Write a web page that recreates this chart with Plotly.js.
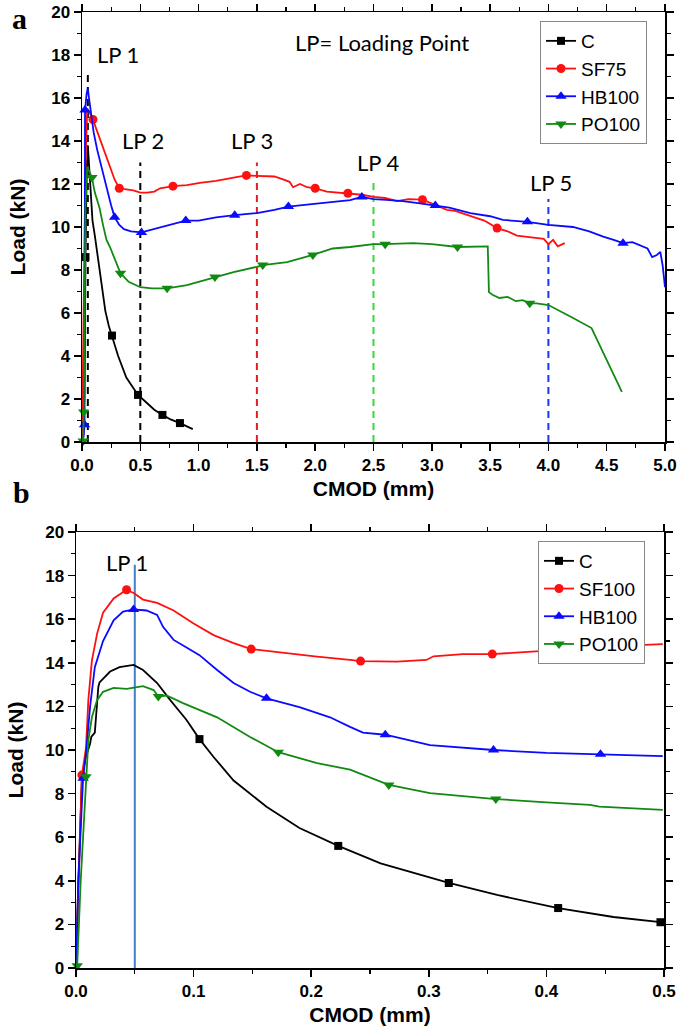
<!DOCTYPE html>
<html>
<head>
<meta charset="utf-8">
<script src="https://cdn.plot.ly/plotly-3.0.1.min.js"></script>
<style>html,body{margin:0;padding:0;background:#fff;}#chart{width:685px;height:1033px;}</style>
</head>
<body>
<div id="chart"></div>
<script>
// ---------- Panel a data ----------
var aC_x = [0, 0.02, 0.03, 0.04, 0.05, 0.06, 0.07, 0.08, 0.09, 0.11, 0.13, 0.155, 0.18, 0.2, 0.23, 0.257, 0.31, 0.38, 0.48, 0.55, 0.62, 0.69, 0.76, 0.84, 0.9, 0.95];
var aC_y = [0, 2, 8.6, 12.5, 13.8, 13.0, 12.0, 11.0, 10.3, 9.6, 8.8, 7.9, 6.9, 6.1, 5.4, 4.95, 4.0, 3.0, 2.19, 1.85, 1.5, 1.26, 1.05, 0.88, 0.72, 0.6];
var aC_mx = [0.03, 0.257, 0.48, 0.69, 0.84];
var aC_my = [8.6, 4.95, 2.19, 1.26, 0.88];

var aSF_x = [0, 0.01, 0.02, 0.03, 0.045, 0.06, 0.075, 0.094, 0.12, 0.155, 0.2, 0.24, 0.28, 0.32, 0.38, 0.44, 0.5, 0.56, 0.62, 0.67, 0.78, 0.9, 1.01, 1.15, 1.3, 1.41, 1.5, 1.58, 1.65, 1.73, 1.78, 1.81, 1.87, 1.93, 2.0, 2.1, 2.2, 2.28, 2.4, 2.5, 2.6, 2.7, 2.8, 2.92, 3.0, 3.13, 3.2, 3.33, 3.45, 3.56, 3.65, 3.73, 3.82, 3.9, 3.96, 4.0, 4.04, 4.08, 4.14];
var aSF_y = [0, 4, 9, 13, 15.5, 15.4, 15.2, 15.0, 14.6, 14.05, 13.4, 12.8, 12.2, 11.8, 11.75, 11.7, 11.6, 11.6, 11.65, 11.8, 11.9, 11.95, 12.05, 12.15, 12.3, 12.4, 12.38, 12.37, 12.35, 12.2, 12.1, 11.85, 12.0, 11.85, 11.8, 11.65, 11.6, 11.57, 11.5, 11.4, 11.35, 11.2, 11.3, 11.27, 11.1, 10.8, 10.75, 10.5, 10.3, 9.95, 9.8, 9.6, 9.55, 9.5, 9.45, 9.2, 9.4, 9.1, 9.25];
var aSF_mx = [0.094, 0.32, 0.78, 1.41, 2.0, 2.28, 2.92, 3.56];
var aSF_my = [15.0, 11.8, 11.9, 12.4, 11.8, 11.57, 11.27, 9.95];

var aHB_x = [0, 0.015, 0.022, 0.024, 0.026, 0.04, 0.05, 0.06, 0.08, 0.1, 0.13, 0.17, 0.21, 0.25, 0.28, 0.32, 0.36, 0.42, 0.51, 0.58, 0.67, 0.78, 0.89, 1.0, 1.15, 1.31, 1.5, 1.65, 1.77, 1.95, 2.15, 2.3, 2.4, 2.5, 2.61, 2.75, 2.9, 3.03, 3.15, 3.33, 3.5, 3.61, 3.72, 3.82, 4.0, 4.1, 4.21, 4.35, 4.47, 4.56, 4.64, 4.72, 4.79, 4.85, 4.89, 4.93, 4.96, 4.98, 5.0];
var aHB_y = [0, 0.3, 0.8, 8, 15.44, 16.2, 16.45, 16.0, 15.2, 14.4, 13.6, 12.7, 11.9, 11.0, 10.45, 10.1, 9.9, 9.8, 9.75, 9.85, 10.0, 10.15, 10.3, 10.3, 10.45, 10.55, 10.65, 10.8, 10.95, 11.05, 11.17, 11.25, 11.4, 11.3, 11.26, 11.2, 11.1, 11.0, 10.9, 10.65, 10.5, 10.33, 10.3, 10.24, 10.1, 10.05, 10.0, 9.8, 9.55, 9.4, 9.25, 9.3, 9.15, 9.0, 8.6, 8.7, 8.84, 8.2, 7.2];
var aHB_mx = [0.022, 0.026, 0.28, 0.51, 0.89, 1.31, 1.77, 2.4, 3.03, 3.82, 4.64];
var aHB_my = [0.8, 15.44, 10.45, 9.75, 10.3, 10.55, 10.95, 11.4, 11.0, 10.24, 9.25];

var aPO_x = [0, 0.01, 0.015, 0.02, 0.03, 0.045, 0.06, 0.085, 0.11, 0.15, 0.18, 0.21, 0.24, 0.28, 0.33, 0.4, 0.5, 0.6, 0.73, 0.9, 1.0, 1.14, 1.3, 1.5, 1.55, 1.76, 1.98, 2.15, 2.3, 2.5, 2.6, 2.84, 3.0, 3.22, 3.35, 3.48, 3.49, 3.52, 3.58, 3.65, 3.72, 3.78, 3.84, 3.9, 4.0, 4.1, 4.2, 4.37, 4.63];
var aPO_y = [0, 0.05, 1.4, 6, 11, 12.8, 12.6, 12.3, 11.6, 10.9, 10.1, 9.4, 9.07, 8.5, 7.85, 7.45, 7.2, 7.15, 7.15, 7.3, 7.45, 7.67, 7.9, 8.15, 8.23, 8.37, 8.7, 9.0, 9.07, 9.2, 9.2, 9.25, 9.2, 9.07, 9.1, 9.1, 6.97, 6.85, 6.7, 6.75, 6.55, 6.6, 6.45, 6.45, 6.37, 6.1, 5.8, 5.3, 2.33];
var aPO_mx = [0.01, 0.015, 0.085, 0.33, 0.73, 1.14, 1.55, 1.98, 2.6, 3.22, 3.84];
var aPO_my = [0.05, 1.4, 12.3, 7.85, 7.15, 7.67, 8.23, 8.7, 9.2, 9.07, 6.45];

// Loading point markers (panel a)
var aLP_x = [0.05, 0.5, 1.5, 2.5, 4.0];
var aLP_top = [17.2, 13.0, 13.0, 12.2, 11.3];
var aLP_colors = ['#000000', '#000000', '#e02020', '#33dd33', '#1a33ff'];
var aLP_labels = ['LP 1', 'LP 2', 'LP 3', 'LP 4', 'LP 5'];
var aLP_labelX = [0.31, 0.52, 1.46, 2.54, 4.02];
var aLP_labelY = [18.0, 14.0, 14.0, 13.0, 12.05];

// ---------- Panel b data ----------
var bC_x = [0, 0.002, 0.005, 0.008, 0.012, 0.013, 0.016, 0.019, 0.02, 0.025, 0.029, 0.037, 0.049, 0.057, 0.069, 0.08, 0.094, 0.105, 0.117, 0.134, 0.162, 0.19, 0.223, 0.259, 0.317, 0.358, 0.41, 0.457, 0.497];
var bC_y = [0, 4, 8.7, 9.6, 10.3, 10.6, 10.8, 12.9, 13.1, 13.4, 13.6, 13.8, 13.9, 13.67, 13.07, 12.3, 11.38, 10.5, 9.68, 8.6, 7.4, 6.42, 5.6, 4.8, 3.9, 3.35, 2.75, 2.34, 2.1];
var bC_mx = [0.105, 0.223, 0.317, 0.41, 0.497];
var bC_my = [10.5, 5.6, 3.9, 2.75, 2.1];

var bSF_x = [0, 0.002, 0.005, 0.0085, 0.0105, 0.0135, 0.018, 0.023, 0.032, 0.043, 0.049, 0.057, 0.069, 0.083, 0.1, 0.117, 0.134, 0.149, 0.176, 0.205, 0.233, 0.242, 0.273, 0.298, 0.304, 0.329, 0.354, 0.386, 0.415, 0.443, 0.47, 0.499];
var bSF_y = [0, 4, 8.85, 10.1, 12.3, 14.1, 15.35, 16.3, 16.95, 17.35, 17.2, 16.9, 16.75, 16.4, 15.8, 15.27, 14.9, 14.63, 14.45, 14.28, 14.13, 14.08, 14.05, 14.13, 14.3, 14.4, 14.4, 14.5, 14.6, 14.73, 14.8, 14.86];
var bSF_mx = [0.005, 0.043, 0.149, 0.242, 0.354];
var bSF_my = [8.85, 17.35, 14.63, 14.08, 14.4];

var bHB_x = [0, 0.002, 0.006, 0.0085, 0.012, 0.016, 0.023, 0.032, 0.04, 0.049, 0.06, 0.069, 0.074, 0.083, 0.094, 0.105, 0.12, 0.134, 0.148, 0.162, 0.19, 0.216, 0.233, 0.244, 0.263, 0.301, 0.355, 0.4, 0.446, 0.499];
var bHB_y = [0, 4, 8.7, 9.85, 12.0, 13.8, 15.0, 15.95, 16.35, 16.45, 16.4, 16.2, 15.65, 15.05, 14.7, 14.35, 13.67, 13.07, 12.67, 12.37, 11.97, 11.5, 11.06, 10.8, 10.7, 10.22, 10.0, 9.87, 9.8, 9.72];
var bHB_mx = [0.006, 0.049, 0.162, 0.263, 0.355, 0.446];
var bHB_my = [8.7, 16.45, 12.37, 10.7, 10.0, 9.8];

var bPO_x = [0, 0.001, 0.004, 0.0085, 0.0105, 0.0135, 0.018, 0.023, 0.032, 0.043, 0.057, 0.066, 0.07, 0.077, 0.091, 0.12, 0.148, 0.172, 0.205, 0.233, 0.266, 0.301, 0.357, 0.4, 0.437, 0.445, 0.499];
var bPO_y = [0, 0.1, 4, 8.77, 10.45, 11.5, 12.3, 12.67, 12.85, 12.8, 12.93, 12.75, 12.45, 12.5, 12.15, 11.5, 10.6, 9.9, 9.4, 9.1, 8.4, 8.02, 7.75, 7.6, 7.48, 7.4, 7.25];
var bPO_mx = [0.001, 0.0085, 0.07, 0.172, 0.266, 0.357];
var bPO_my = [0.1, 8.77, 12.45, 9.9, 8.4, 7.75];

var bLP_x = [0.05];
var bLP_top = [18.5];
var bLP_label = 'LP 1';
var bLP_labelX = 0.0434;
var bLP_labelY = 18.58;

var namesA = ['C', 'SF75', 'HB100', 'PO100'];
var namesB = ['C', 'SF100', 'HB100', 'PO100'];

// ---------- styles ----------
var colors = ['#000000', '#ff1010', '#0a0aff', '#128a12'];
var symbols = ['square', 'circle', 'triangle-up', 'triangle-down'];
var msizes = [8, 9, 10, 10];
var LW = 1.8;

var traces = [];

function addLP(xs, tops, cols, xa, ya, dash) {
  for (var i = 0; i < xs.length; i++) {
    traces.push({x: [xs[i], xs[i]], y: [0, tops[i]], mode: 'lines', xaxis: xa, yaxis: ya,
      line: {color: cols[i], width: 2, dash: dash}, showlegend: false, hoverinfo: 'skip', cliponaxis: false});
  }
}
function addSeries(lx, ly, mx, my, k, xa, ya) {
  traces.push({x: lx, y: ly, mode: 'lines', xaxis: xa, yaxis: ya,
    line: {color: colors[k], width: LW}, showlegend: false, cliponaxis: false});
  traces.push({x: mx, y: my, mode: 'markers', xaxis: xa, yaxis: ya,
    marker: {color: colors[k], symbol: symbols[k], size: msizes[k]}, showlegend: false, cliponaxis: false});
}
function addLegend(k, name, legend, xa, ya) {
  traces.push({x: [null], y: [null], mode: 'lines+markers', xaxis: xa, yaxis: ya, name: name, legend: legend,
    line: {color: colors[k], width: LW}, marker: {color: colors[k], symbol: symbols[k], size: msizes[k]}});
}

addLP(aLP_x, aLP_top, aLP_colors, 'x', 'y', '7px,5px');
addSeries(aC_x, aC_y, aC_mx, aC_my, 0, 'x', 'y');
addSeries(aSF_x, aSF_y, aSF_mx, aSF_my, 1, 'x', 'y');
addSeries(aHB_x, aHB_y, aHB_mx, aHB_my, 2, 'x', 'y');
addSeries(aPO_x, aPO_y, aPO_mx, aPO_my, 3, 'x', 'y');
for (var i = 0; i < 4; i++) addLegend(i, namesA[i], 'legend', 'x', 'y');

addLP(bLP_x, bLP_top, ['#3f80cc'], 'x2', 'y2', 'solid');
addSeries(bC_x, bC_y, bC_mx, bC_my, 0, 'x2', 'y2');
addSeries(bSF_x, bSF_y, bSF_mx, bSF_my, 1, 'x2', 'y2');
addSeries(bHB_x, bHB_y, bHB_mx, bHB_my, 2, 'x2', 'y2');
addSeries(bPO_x, bPO_y, bPO_mx, bPO_my, 3, 'x2', 'y2');
for (var j = 0; j < 4; j++) addLegend(j, namesB[j], 'legend2', 'x2', 'y2');

var W = 685, H = 1033;
var tickFont = {family: 'Liberation Sans, Arial, sans-serif', size: 17, color: '#000', weight: 'bold'};
var titleFont = {family: 'Liberation Sans, Arial, sans-serif', size: 21, color: '#000', weight: 'bold'};
var lpFont = {family: 'Lato, sans-serif', size: 22, color: '#000'};
var legFont = {family: 'Liberation Sans, Arial, sans-serif', size: 19, color: '#000'};

function axisBase(extra) {
  var a = {showline: true, linecolor: '#000', linewidth: 1.5, mirror: 'ticks', ticks: 'outside',
    ticklen: 7, tickwidth: 1.5, tickcolor: '#000', showgrid: false, zeroline: false,
    tickfont: tickFont, automargin: false, fixedrange: true};
  for (var k in extra) a[k] = extra[k];
  return a;
}

var annotations = [];
for (var a = 0; a < aLP_labels.length; a++) {
  annotations.push({x: aLP_labelX[a], y: aLP_labelY[a], xref: 'x', yref: 'y', text: aLP_labels[a],
    showarrow: false, font: lpFont, xanchor: 'center', yanchor: 'middle'});
}
annotations.push({x: 2.57, y: 18.6, xref: 'x', yref: 'y', text: 'LP= Loading Point', showarrow: false,
  font: lpFont, xanchor: 'center', yanchor: 'middle'});
annotations.push({x: bLP_labelX, y: bLP_labelY, xref: 'x2', yref: 'y2', text: bLP_label, showarrow: false,
  font: lpFont, xanchor: 'center', yanchor: 'middle'});
annotations.push({x: 19 / W, y: 1 - 19 / H, xref: 'paper', yref: 'paper', text: 'a', showarrow: false,
  font: {family: 'Liberation Serif, Times New Roman, serif', size: 30, color: '#000', weight: 'bold'}, xanchor: 'center', yanchor: 'middle'});
annotations.push({x: 21 / W, y: 1 - 493 / H, xref: 'paper', yref: 'paper', text: 'b', showarrow: false,
  font: {family: 'Liberation Serif, Times New Roman, serif', size: 30, color: '#000', weight: 'bold'}, xanchor: 'center', yanchor: 'middle'});

var layout = {
  width: W, height: H,
  margin: {l: 0, r: 0, t: 0, b: 0},
  paper_bgcolor: '#fff', plot_bgcolor: '#fff',
  showlegend: true,
  xaxis: axisBase({domain: [82 / W, 665 / W], range: [0, 5], dtick: 0.5, tick0: 0, tickformat: '.1f',
    minor: {dtick: 0.25, ticks: 'outside', ticklen: 4, tickwidth: 1.2, tickcolor: '#000'},
    anchor: 'y', title: {text: 'CMOD (mm)', font: titleFont, standoff: 7}}),
  yaxis: axisBase({domain: [1 - 442 / H, 1 - 12 / H], range: [0, 20], dtick: 2, tick0: 0,
    minor: {dtick: 1, ticks: 'outside', ticklen: 4, tickwidth: 1.2, tickcolor: '#000'},
    anchor: 'x', title: {text: 'Load (kN)', font: titleFont, standoff: 20}}),
  xaxis2: axisBase({domain: [76 / W, 664 / W], range: [0, 0.5], dtick: 0.1, tick0: 0, tickformat: '.1f',
    minor: {dtick: 0.05, ticks: 'outside', ticklen: 4, tickwidth: 1.2, tickcolor: '#000'},
    anchor: 'y2', title: {text: 'CMOD (mm)', font: titleFont, standoff: 7}}),
  yaxis2: axisBase({domain: [1 - 968 / H, 1 - 532 / H], range: [0, 20], dtick: 2, tick0: 0,
    minor: {dtick: 1, ticks: 'outside', ticklen: 4, tickwidth: 1.2, tickcolor: '#000'},
    anchor: 'x2', title: {text: 'Load (kN)', font: titleFont, standoff: 16}}),
  legend: {x: 540 / W, y: 1 - 21 / H, xanchor: 'left', yanchor: 'top', bgcolor: '#fff',
    bordercolor: '#888', borderwidth: 1, font: legFont, tracegroupgap: 0},
  legend2: {x: 538 / W, y: 1 - 541 / H, xanchor: 'left', yanchor: 'top', bgcolor: '#fff',
    bordercolor: '#888', borderwidth: 1, font: legFont, tracegroupgap: 0},
  annotations: annotations
};

Plotly.newPlot('chart', traces, layout, {displayModeBar: false, staticPlot: true});
</script>
</body>
</html>
